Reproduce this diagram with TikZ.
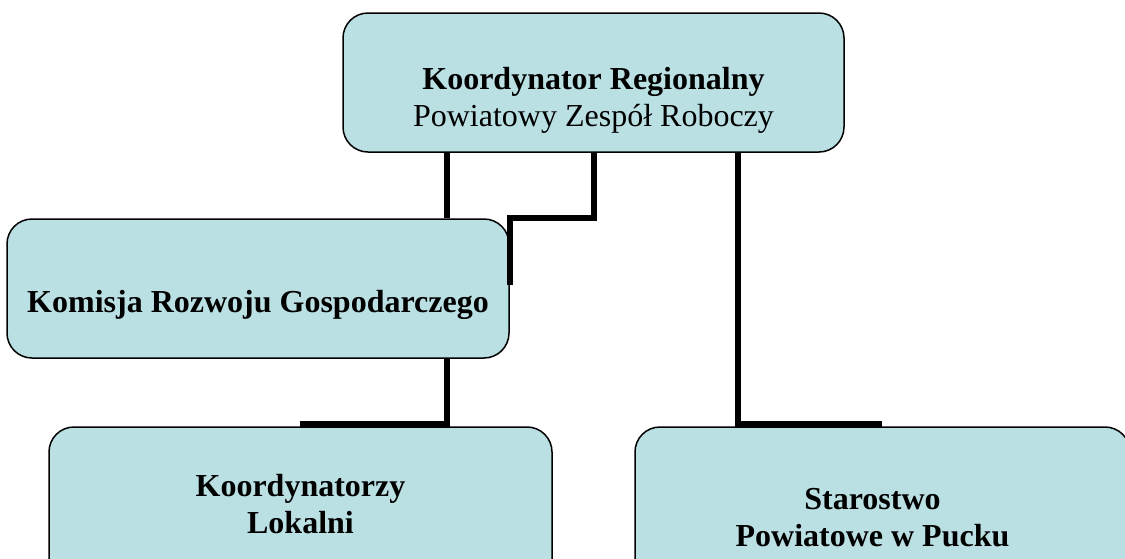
\documentclass[tikz,border=0pt]{standalone}
\usepackage{fontspec}
\setmainfont{Liberation Serif}
\usepackage{xcolor}
\definecolor{boxblue}{RGB}{187,224,227}
\tikzset{
  orgbox/.style={draw=black, line width=1.5pt, fill=boxblue, rounded corners=25pt, inner sep=0pt},
  orgtext/.style={align=center, inner sep=0pt, font=\fontsize{32}{37}\selectfont},
  orgline/.style={line width=6pt, line join=miter},
}

\begin{document}
\begin{tikzpicture}[x=1pt, y=-1pt]
            \useasboundingbox (0,0) rectangle (1125,558);
            \clip (0,0) rectangle (1125,558);
            % boxes
            \node[orgbox, minimum width=501pt, minimum height=139pt] (koord) at (593.5,82.5) {};
            \node[orgbox, minimum width=502pt, minimum height=139pt] (komisja) at (258,288.5) {};
            \node[orgbox, minimum width=503pt, minimum height=200pt] (lokalni) at (300.5,527) {};
            \node[orgbox, minimum width=495pt, minimum height=200pt] (starostwo) at (882.5,527) {};
            % texts
            \node[orgtext] (koordtxt) at ([yshift=-18pt]koord.center) {\textbf{Koordynator Regionalny}\\Powiatowy Zespół Roboczy};
            \node[orgtext] (komisjatxt) at ([yshift=-16pt]komisja.center) {\textbf{Komisja Rozwoju Gospodarczego}};
            \node[orgtext] (lokalnitxt) at ([yshift=-78pt]lokalni.north) {\textbf{Koordynatorzy}\\\textbf{Lokalni}};
            \node[orgtext] (starostwotxt) at ([xshift=-10pt, yshift=-91pt]starostwo.north) {\textbf{Starostwo}\\\textbf{Powiatowe w Pucku}};
            % connectors
            \coordinate (xa) at (447,0);
            \coordinate (xb) at (594,0);
            \coordinate (xc) at (738,0);
            \coordinate (elbow) at (510,218);
            \coordinate (kjoin) at (510,285);
            \coordinate (stubL) at (300,424);
            \coordinate (stubR) at (882,424);
            \draw[orgline] (koord.south -| xa) -- (komisja.north -| xa);
            \draw[orgline] (koord.south -| xb) -- (xb |- elbow) -- (elbow) -- (kjoin);
            \draw[orgline] (koord.south -| xc) -- (xc |- stubR) -- (stubR);
            \draw[orgline] (komisja.south -| xa) -- (xa |- stubL) -- (stubL);
        \end{tikzpicture}
\end{document}
